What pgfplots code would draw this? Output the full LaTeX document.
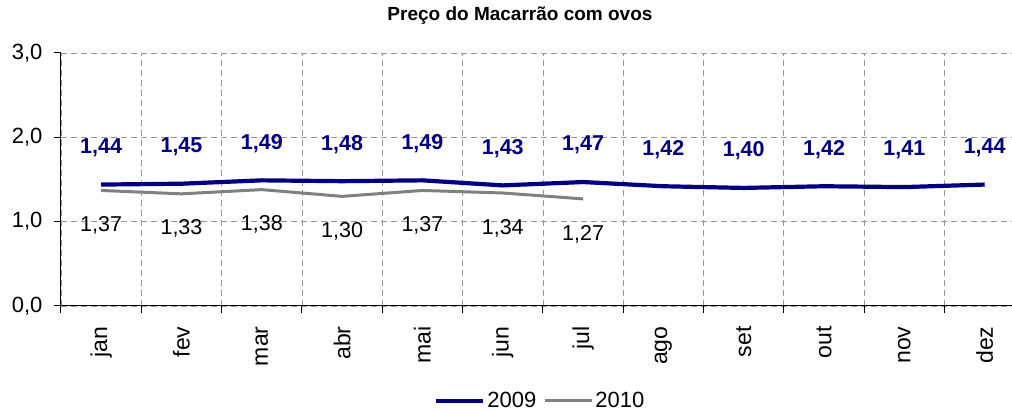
\documentclass[border=0pt]{standalone}
\usepackage{pgfplots}
\pgfplotsset{compat=1.18}
\usepackage{fontspec}
\setmainfont{Liberation Sans}
\definecolor{navyb}{RGB}{0,0,128}
\definecolor{grayl}{RGB}{128,128,128}
\definecolor{gridc}{RGB}{150,150,150}
\begin{document}
\begin{tikzpicture}
\useasboundingbox (0pt,0pt) rectangle (1012pt,412pt);
\begin{axis}[
  at={(61pt,106pt)}, anchor=south west,
  width=951pt, height=253pt, scale only axis,
  xmin=-0.5, xmax=11.34, ymin=0, ymax=3,
  axis x line*=bottom, axis y line*=left,
  axis line style={black, line width=1pt},
  xtick={-0.5,0.5,...,10.5}, xticklabels={},
  ytick={0,1,2,3},
  tick align=outside, major tick length=7pt,
  tick style={black, line width=1pt},
  grid=major,
  major grid style={gridc, dash pattern=on 6pt off 4pt, line width=0.8pt},
  extra x ticks={0,1,...,11},
  extra x tick labels={jan,fev,mar,abr,mai,jun,jul,ago,set,out,nov,dez},
  extra x tick style={grid=none, major tick length=0pt,
    tick label style={rotate=90, anchor=east, font=\fontsize{23}{26}\selectfont, xshift=-17pt}},
  yticklabel style={font=\fontsize{22}{25}\selectfont, xshift=-8pt,
    /pgf/number format/fixed, /pgf/number format/fixed zerofill, /pgf/number format/precision=1,
    /pgf/number format/use comma, /pgf/number format/assume math mode=true},
  title={\bfseries Preço do Macarrão com ovos},
  title style={at={(0.4826,1.1225)}, anchor=center, font=\fontsize{19}{22}\selectfont},
  legend style={at={(0.504,-0.375)}, anchor=center, draw=none, legend columns=2,
    font=\fontsize{22}{25}\selectfont, /tikz/every even column/.append style={column sep=5pt}},
  legend image code/.code={\draw[#1] (0pt,0pt) -- (47pt,0pt);},
  nodes near coords,
  point meta=explicit,
  clip=false,
]
\addplot[navyb, line width=4.2pt,
  nodes near coords style={anchor=center, yshift=37pt, font=\bfseries\fontsize{21.5}{24}\selectfont, text=navyb,
    /pgf/number format/fixed, /pgf/number format/fixed zerofill, /pgf/number format/precision=2,
    /pgf/number format/use comma, /pgf/number format/assume math mode=true}]
  table[meta=y] {
x y
0 1.44
1 1.45
2 1.49
3 1.48
4 1.49
5 1.43
6 1.47
7 1.42
8 1.40
9 1.42
10 1.41
11 1.44
};
\addlegendentry{2009}
\addplot[grayl, line width=3pt,
  nodes near coords style={anchor=center, yshift=-35pt, font=\fontsize{21.5}{24}\selectfont, text=black,
    /pgf/number format/fixed, /pgf/number format/fixed zerofill, /pgf/number format/precision=2,
    /pgf/number format/use comma, /pgf/number format/assume math mode=true}]
  table[meta=y] {
x y
0 1.37
1 1.33
2 1.38
3 1.30
4 1.37
5 1.34
6 1.27
};
\addlegendentry{2010}
\end{axis}
\end{tikzpicture}
\end{document}
